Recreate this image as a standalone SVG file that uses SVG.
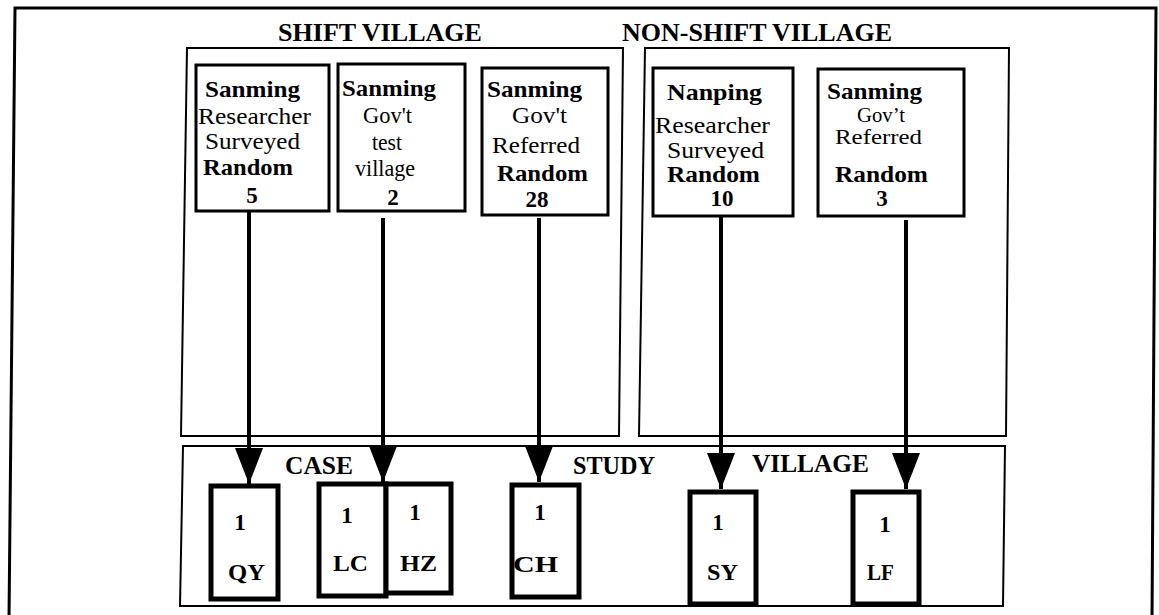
<svg xmlns="http://www.w3.org/2000/svg" width="1159" height="615" viewBox="0 0 1159 615">
<style>
.frame{fill:none;stroke:#000;stroke-width:3}
.panel{fill:none;stroke:#000;stroke-width:2}
.box{fill:#fff;stroke:#000;stroke-width:3}
.cbox{fill:#fff;stroke:#000;stroke-width:5}
text{font-family:'Liberation Serif',Tinos,'Times New Roman',Times,'DejaVu Serif',serif;fill:#000}
.t{font-size:23px}
.s{font-size:20px}
.b{font-weight:bold}
.h{font-size:25px;font-weight:bold}
.m{text-anchor:middle}
.conn{stroke:#000;stroke-width:4;fill:none}
</style>
<defs>
<marker id="ah" viewBox="0 0 36 28" refX="36" refY="14" markerWidth="36" markerHeight="28" markerUnits="userSpaceOnUse" orient="auto">
<path d="M0,0 L36,14 L0,28 Z" fill="#000"/>
</marker>
</defs>
<rect width="1159" height="615" fill="#fff"/>
<path class="frame" d="M9,620 L15,8 L1156,8 L1152,620"/>
<g id="shift-village">
<path class="panel" d="M187,48 L623,48 L619,436 L181,436 Z"/>
<text class="h" x="278" y="41" textLength="204" lengthAdjust="spacingAndGlyphs">SHIFT VILLAGE</text>
</g>
<g id="non-shift-village">
<path class="panel" d="M645,48 L1009,48 L1006,436 L639,436 Z"/>
<text class="h" x="622" y="41" textLength="270" lengthAdjust="spacingAndGlyphs">NON-SHIFT VILLAGE</text>
</g>
<g id="case-study-village">
<path class="panel" d="M183,446 L1005,446 L1003,606 L180,606 Z"/>
<text class="h" x="285" y="474" textLength="68" lengthAdjust="spacingAndGlyphs">CASE</text>
<text class="h" x="573" y="474" textLength="82" lengthAdjust="spacingAndGlyphs">STUDY</text>
<text class="h" x="752" y="472" textLength="117" lengthAdjust="spacingAndGlyphs">VILLAGE</text>
</g>
<g id="src-sanming-researcher">
<rect class="box" x="196" y="65" width="133" height="146"/>
<text class="t b" x="205" y="97" textLength="95" lengthAdjust="spacingAndGlyphs">Sanming</text>
<text class="t" x="198" y="124" textLength="113" lengthAdjust="spacingAndGlyphs">Researcher</text>
<text class="t" x="205" y="149" textLength="95" lengthAdjust="spacingAndGlyphs">Surveyed</text>
<text class="t b" x="203" y="175" textLength="90" lengthAdjust="spacingAndGlyphs">Random</text>
<text class="t b m" x="252" y="203">5</text>
</g>
<g id="src-sanming-test">
<rect class="box" x="338" y="64" width="127" height="147"/>
<text class="t b" x="342" y="96" textLength="94" lengthAdjust="spacingAndGlyphs">Sanming</text>
<text class="t" x="363" y="123" textLength="49" lengthAdjust="spacingAndGlyphs">Gov't</text>
<text class="t" x="372" y="150" textLength="30" lengthAdjust="spacingAndGlyphs">test</text>
<text class="t" x="355" y="176" textLength="60" lengthAdjust="spacingAndGlyphs">village</text>
<text class="t b m" x="393" y="205">2</text>
</g>
<g id="src-sanming-referred">
<rect class="box" x="482" y="68" width="126" height="147"/>
<text class="t b" x="487" y="97" textLength="95" lengthAdjust="spacingAndGlyphs">Sanming</text>
<text class="t" x="512" y="123" textLength="55" lengthAdjust="spacingAndGlyphs">Gov't</text>
<text class="t" x="492" y="153" textLength="88" lengthAdjust="spacingAndGlyphs">Referred</text>
<text class="t b" x="497" y="181" textLength="91" lengthAdjust="spacingAndGlyphs">Random</text>
<text class="t b m" x="537" y="207">28</text>
</g>
<g id="src-nanping-researcher">
<rect class="box" x="653" y="68" width="140" height="148"/>
<text class="t b" x="667" y="100" textLength="95" lengthAdjust="spacingAndGlyphs">Nanping</text>
<text class="t" x="655" y="133" textLength="115" lengthAdjust="spacingAndGlyphs">Researcher</text>
<text class="t" x="667" y="158" textLength="97" lengthAdjust="spacingAndGlyphs">Surveyed</text>
<text class="t b" x="667" y="182" textLength="93" lengthAdjust="spacingAndGlyphs">Random</text>
<text class="t b m" x="722" y="206">10</text>
</g>
<g id="src-sanming-referred-ns">
<rect class="box" x="818" y="69" width="146" height="147"/>
<text class="t b" x="827" y="99" textLength="95" lengthAdjust="spacingAndGlyphs">Sanming</text>
<text class="t s" x="857" y="122" textLength="48" lengthAdjust="spacingAndGlyphs">Gov’t</text>
<text class="t s" x="835" y="144" textLength="87" lengthAdjust="spacingAndGlyphs">Referred</text>
<text class="t b" x="835" y="182" textLength="93" lengthAdjust="spacingAndGlyphs">Random</text>
<text class="t b m" x="882" y="206">3</text>
</g>
<g id="connectors">
<line class="conn" x1="249" y1="211" x2="249" y2="484" marker-end="url(#ah)"/>
<line class="conn" x1="383" y1="218" x2="383" y2="482" marker-end="url(#ah)"/>
<line class="conn" x1="539" y1="218" x2="539" y2="482" marker-end="url(#ah)"/>
<line class="conn" x1="721" y1="216" x2="721" y2="489" marker-end="url(#ah)"/>
<line class="conn" x1="906" y1="220" x2="906" y2="489" marker-end="url(#ah)"/>
</g>
<g id="case-qy">
<rect class="cbox" x="211" y="486" width="67" height="113"/>
<text class="t b m" x="240" y="530">1</text>
<text class="t b" x="228" y="580" textLength="37" lengthAdjust="spacingAndGlyphs">QY</text>
</g>
<g id="case-lc">
<rect class="cbox" x="319" y="484" width="67" height="112"/>
<text class="t b m" x="347" y="523">1</text>
<text class="t b" x="333" y="571" textLength="35" lengthAdjust="spacingAndGlyphs">LC</text>
</g>
<g id="case-hz">
<rect class="cbox" x="386" y="484" width="65" height="109"/>
<text class="t b m" x="415" y="520">1</text>
<text class="t b" x="400" y="571" textLength="37" lengthAdjust="spacingAndGlyphs">HZ</text>
</g>
<g id="case-ch">
<rect class="cbox" x="512" y="485" width="67" height="112"/>
<text class="t b m" x="540" y="520">1</text>
<text class="t b" x="513" y="572" textLength="45" lengthAdjust="spacingAndGlyphs">CH</text>
</g>
<g id="case-sy">
<rect class="cbox" x="690" y="492" width="66" height="112"/>
<text class="t b m" x="718" y="530">1</text>
<text class="t b" x="707" y="580" textLength="31" lengthAdjust="spacingAndGlyphs">SY</text>
</g>
<g id="case-lf">
<rect class="cbox" x="853" y="492" width="66" height="112"/>
<text class="t b m" x="885" y="532">1</text>
<text class="t b" x="867" y="580" textLength="27" lengthAdjust="spacingAndGlyphs">LF</text>
</g>
</svg>
